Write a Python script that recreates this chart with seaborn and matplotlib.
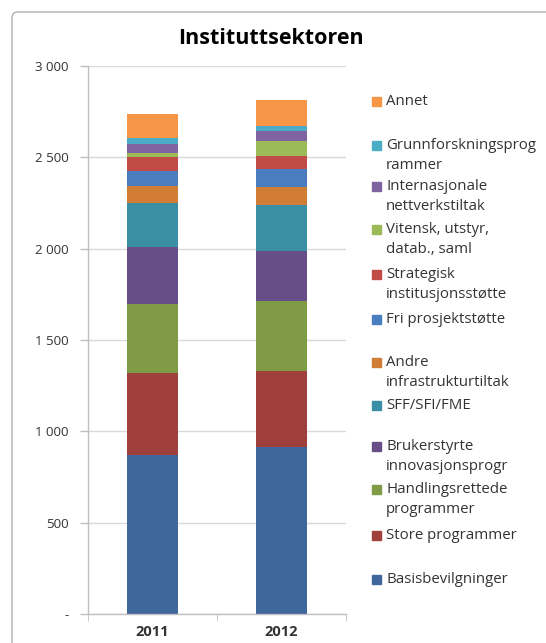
import matplotlib
matplotlib.use('Agg')
import matplotlib.pyplot as plt
import seaborn as sns
import pandas as pd
import numpy as np
from matplotlib.patches import Rectangle, FancyBboxPatch

# Data (mill. kr), bottom -> top
years = ['2011', '2012']
categories = ['Basisbevilgninger', 'Store programmer', 'Handlingsrettede\nprogrammer',
              'Brukerstyrte\ninnovasjonsprogr', 'SFF/SFI/FME', 'Andre\ninfrastrukturtiltak',
              'Fri prosjektstøtte', 'Strategisk\ninstitusjonsstøtte', 'Vitensk, utstyr,\ndatab., saml',
              'Internasjonale\nnettverkstiltak', 'Grunnforskningsprog\nrammer', 'Annet']
values_2011 = [870, 447, 380, 310, 243, 95, 80, 77, 20, 51, 34, 128]
values_2012 = [916, 416, 380, 275, 250, 100, 97, 73, 84, 51, 27, 145]
colors = ['#3F679C', '#A0403D', '#7F9B46', '#684E89', '#3A8FA5', '#D17D35',
          '#4A7CC0', '#C04B47', '#9BBB59', '#8064A2', '#4BACC6', '#F79646']
ytick_values = [0, 500, 1000, 1500, 2000, 2500, 3000]
ytick_labels = ['-', '500', '1 000', '1 500', '2 000', '2 500', '3 000']

df = pd.DataFrame({'year': np.repeat(years, len(categories)),
                   'category': categories * 2,
                   'value': values_2011 + values_2012})

sns.set_style('white')
plt.rcParams['font.family'] = ['Open Sans', 'DejaVu Sans']

fig = plt.figure(figsize=(5.46, 6.43), dpi=100)
ax = fig.add_axes([88 / 546, 1 - 614 / 643, 258 / 546, 548 / 643])

bottom = np.zeros(len(years))
for cat, col in zip(categories, colors):
    sub = df[df['category'] == cat]
    sns.barplot(data=sub, x='year', y='value', order=years, color=col,
                width=0.4, bottom=bottom, ax=ax, saturation=1, linewidth=0)
    bottom = bottom + sub['value'].to_numpy()

ax.set_ylim(0, 3000)
ax.set_xlim(-0.5, 1.5)
ax.set_xlabel('')
ax.set_ylabel('')
ax.set_yticks(ytick_values)
ax.set_yticklabels(ytick_labels, fontsize=9.5, color='#333333')
ax.tick_params(axis='y', length=6, color='#BFBFBF', width=1, pad=8, left=True)
ax.tick_params(axis='x', length=0, pad=8)
for lab in ax.get_xticklabels():
    lab.set_fontsize(10.5)
    lab.set_fontweight('bold')
    lab.set_color('#333333')
ax.set_xticks([-0.5, 0.5, 1.5], minor=True)
ax.tick_params(axis='x', which='minor', length=5, color='#BFBFBF', direction='out', bottom=True)
ax.yaxis.grid(True, color='#D9D9D9', linewidth=1)
ax.set_axisbelow(True)
for s in ['top', 'right']:
    ax.spines[s].set_visible(False)
for s in ['left', 'bottom']:
    ax.spines[s].set_color('#BFBFBF')
    ax.spines[s].set_linewidth(1)

fig.text(271 / 546, 1 - 39 / 643, 'Instituttsektoren', ha='center', va='center',
         fontsize=15.5, fontweight='bold', color='black')

# legend, top entry first
legend_y = [102, 146, 187, 230, 275, 320, 363, 406, 447, 490, 536, 580]
for cat, col, y in zip(categories[::-1], colors[::-1], legend_y):
    fig.patches.append(Rectangle((372 / 546, 1 - (y + 4) / 643), 9 / 546, 9 / 643,
                                 transform=fig.transFigure, color=col, figure=fig))
    fig.text(386 / 546, 1 - (y - 8) / 643, cat, ha='left', va='top', fontsize=10.8,
             color='#333333', linespacing=1.45, transform=fig.transFigure)

fig.patches.append(FancyBboxPatch((12 / 546, -0.05), 0.99, 1 - 12 / 643 + 0.05,
                                  boxstyle='round,pad=0,rounding_size=0.01',
                                  transform=fig.transFigure, fill=False,
                                  edgecolor='#B0B0B0', linewidth=1.0, figure=fig))

fig.savefig('out.png', dpi=100)
